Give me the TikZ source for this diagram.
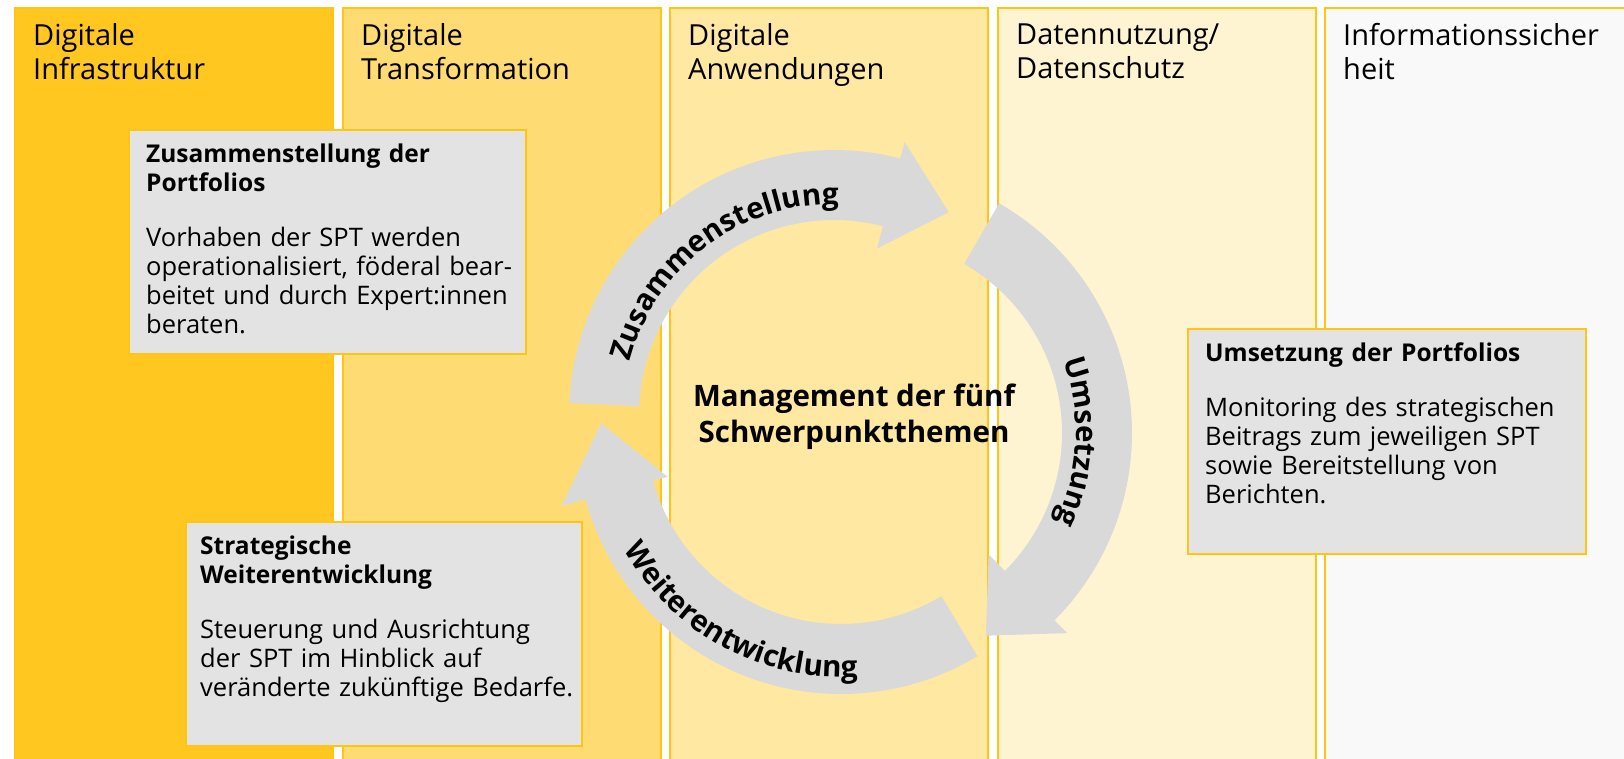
\documentclass[tikz,border=0pt]{standalone}
\usepackage{fontspec}
\setmainfont{Open Sans}
\usepackage{xcolor}
\usepackage{tikz}
\usetikzlibrary{positioning}
\usetikzlibrary{calc}
\usetikzlibrary{decorations.text}
\definecolor{gold}{RGB}{255,196,20}
\definecolor{colA}{RGB}{255,199,31}
\definecolor{colB}{RGB}{255,220,115}
\definecolor{colC}{RGB}{255,232,161}
\definecolor{colD}{RGB}{255,244,209}
\definecolor{colE}{RGB}{249,249,249}
\definecolor{boxgray}{RGB}{227,227,227}
\definecolor{arrowgray}{RGB}{217,217,217}
\newcommand{\arrowfont}{\bfseries\fontsize{29.5}{32}\selectfont}
\newcommand{\cyclearrow}[8]{%
        \begin{scope}[shift={(#1,#2)}]
                \fill[arrowgray] (#3:265pt) arc[start angle=#3, end angle=#4, radius=265pt]
                        -- (#4:#7pt) -- (#5:#6pt) -- (#4:#8pt) -- (#4:195pt)
                        arc[start angle=#4, end angle=#3, radius=195pt] -- cycle;
        \end{scope}}

\begin{document}
\begin{tikzpicture}[x=1pt, y=1pt]

                \tikzstyle{column}    = [draw=gold, line width=2pt, anchor=north west, minimum width=318, minimum height=770, inner sep=0pt]
                \tikzstyle{header}    = [anchor=north west, inner sep=0pt, text width=300, align=left, font=\fontsize{29}{34}\selectfont]
                \tikzstyle{panel}     = [draw=gold, line width=2pt, fill=boxgray, anchor=north west, inner sep=0pt]
                \tikzstyle{paneltext} = [anchor=north west, inner sep=0pt, text width=385, align=left, font=\fontsize{25.5}{29}\selectfont]

                \useasboundingbox (0,0) rectangle (1624,758);

                \foreach \i/\x/\colfill/\headtext in {1/14/colA/{Digitale\\Infrastruktur}, 2/342/colB/{Digitale\\Transformation}, 3/669/colC/{Digitale\\Anwendungen}, 4/997/colD/{Datennutzung/\\Datenschutz}, 5/1324/colE/{Informationssicher\\heit}}
                {
                        \node [column, fill=\colfill](col\i) at (\x, 751) {};
                        \node [header](head\i) at ($(col\i.north west)+(19,-16.3)$) {\headtext};
                }

                \node [panel, minimum width=397, minimum height=224](p1) at (128, 629) {};
                \node [panel, minimum width=396, minimum height=224](p2) at (185, 237) {};
                \node [panel, minimum width=398, minimum height=225](p3) at (1187, 430) {};

                \node [paneltext](t1) at ($(p1.north west)+(18,-14.2)$)
                        {{\bfseries\fontsize{24.5}{29}\selectfont Zusammenstellung der\\Portfolios}\\[26pt]
                         Vorhaben der SPT werden\\operationalisiert, föderal bear-\\beitet und durch Expert:innen\\beraten.};
                \node [paneltext](t2) at ($(p2.north west)+(15,-14.2)$)
                        {{\bfseries\fontsize{24.5}{29}\selectfont Strategische\\Weiterentwicklung}\\[26pt]
                         Steuerung und Ausrichtung\\der SPT im Hinblick auf\\veränderte zukünftige Bedarfe.};
                \node [paneltext](t3) at ($(p3.north west)+(18,-14.2)$)
                        {{\bfseries\fontsize{24.5}{29}\selectfont Umsetzung der Portfolios}\\[26pt]
                         Monitoring des strategischen\\Beitrags zum jeweiligen SPT\\sowie Bereitstellung von\\Berichten.};

                \cyclearrow{834}{343}{177.4}{75.5}{60.5}{233}{282}{172}
                \cyclearrow{867}{325}{60.1}{-45}{-59.6}{235}{283}{172}
                \cyclearrow{841}{329}{301}{195.4}{178.6}{240}{290}{180}

                \path [shift={(834,343)}, decorate, decoration={text along path, text align=center, text={|\arrowfont|Zusammenstellung}}]
                        (177:211pt) arc[start angle=177, end angle=77, radius=211pt];
                \path [shift={(867,325)}, decorate, decoration={text along path, text align=center, text={|\arrowfont|Umsetzung}}]
                        (45:209pt) arc[start angle=45, end angle=-50, radius=209pt];
                \path [shift={(841,329)}, decorate, decoration={text along path, text align=center, text={|\arrowfont|Weiterentwicklung}}]
                        (192:248pt) arc[start angle=192, end angle=291, radius=248pt];

                \node [align=center, font=\bfseries\fontsize{29.5}{36}\selectfont](mgmt) at (854, 341) {Management der fünf\\Schwerpunktthemen};

\end{tikzpicture}
\end{document}
